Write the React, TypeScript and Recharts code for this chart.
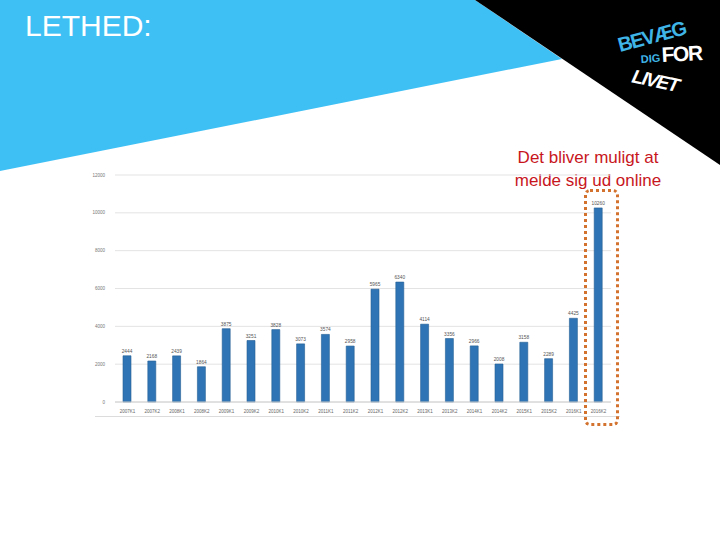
import { BarChart, Bar, XAxis, YAxis, CartesianGrid, LabelList } from "recharts"

const periods = [
  "2007K1", "2007K2", "2008K1", "2008K2", "2009K1", "2009K2", "2010K1", "2010K2",
  "2011K1", "2011K2", "2012K1", "2012K2", "2013K1", "2013K2", "2014K1", "2014K2",
  "2015K1", "2015K2", "2016K1", "2016K2",
]
const exits = [
  2444, 2168, 2439, 1864, 3875, 3251, 3828, 3073, 3574, 2958,
  5965, 6340, 4114, 3356, 2966, 2008, 3158, 2289, 4425, 10260,
]
const yTicks = [0, 2000, 4000, 6000, 8000, 10000, 12000]

const data = periods.map((p, i) => ({ name: p, value: exits[i] }))

const font = "Liberation Sans, Arial, sans-serif"

function Backdrop() {
  return (
    <svg width={720} height={200} style={{ position: "absolute", left: 0, top: 0 }}>
      <polygon points="0,0 475,0 562,59 0,171" fill="#3fc0f5" />
      <polygon points="475,0 720,0 720,165" fill="#000" />
      <g fontFamily={font} fontWeight="bold">
        <text x={620} y={52} fontSize={20} fill="#3fb4e6" transform="rotate(-15 620 52)" letterSpacing={-1.5}>BEVÆG</text>
        <text x={641} y={63} fontSize={11} fill="#3fb4e6" transform="rotate(-4 641 63)">DIG</text>
        <text x={662} y={62} fontSize={21} fill="#fff" transform="rotate(-3 662 62)" letterSpacing={-1.5}>FOR</text>
        <text x={0} y={0} fontSize={19} fill="#fff" transform="translate(630 82) rotate(12) skewX(-12)" letterSpacing={-1.5}>LIVET</text>
      </g>
    </svg>
  )
}

export default function App() {
  return (
    <div style={{ position: "fixed", left: 0, top: 0, width: 720, height: 540, background: "#fff", overflow: "hidden" }}>
      <Backdrop />
      <div style={{ position: "absolute", left: 25, top: 9, color: "#fff", fontFamily: font, fontSize: 30 }}>
        LETHED:
      </div>
      <div style={{ position: "absolute", left: 470, top: 146, width: 236, textAlign: "center", color: "#c8161d", fontFamily: font, fontSize: 17, lineHeight: "23px" }}>
        Det bliver muligt at<br />melde sig ud online
      </div>
      <div style={{ position: "absolute", left: 0, top: 0 }}>
        <BarChart width={720} height={540} data={data} margin={{ top: 175, right: 109, bottom: 126, left: 85 }}>
          <CartesianGrid vertical={false} stroke="#e3e3e3" strokeWidth={1} />
          <XAxis
            dataKey="name"
            interval={0}
            height={12}
            tickLine={false}
            axisLine={{ stroke: "#d0d0d0" }}
            tick={{ fontSize: 4.5, fill: "#666", fontFamily: font }}
            tickMargin={2}
          />
          <YAxis
            domain={[0, 12000]}
            ticks={yTicks}
            width={30}
            axisLine={false}
            tickLine={false}
            tickMargin={4}
            tick={{ fontSize: 4.5, fill: "#777", fontFamily: font }}
          />
          <Bar dataKey="value" fill="#2f75b5" stroke="#245e94" strokeWidth={0.6} barSize={8} isAnimationActive={false}>
            <LabelList dataKey="value" position="top" offset={3} style={{ fontSize: 4.8, fill: "#555", fontFamily: font }} />
          </Bar>
        </BarChart>
      </div>
      <div style={{ position: "absolute", left: 95, top: 416, width: 525, height: 0, borderTop: "1px solid #dcdcdc" }} />
      <div style={{ position: "absolute", left: 584, top: 189, width: 29, height: 231, border: "3px dotted #d2722e", borderRadius: 6 }} />
    </div>
  )
}
